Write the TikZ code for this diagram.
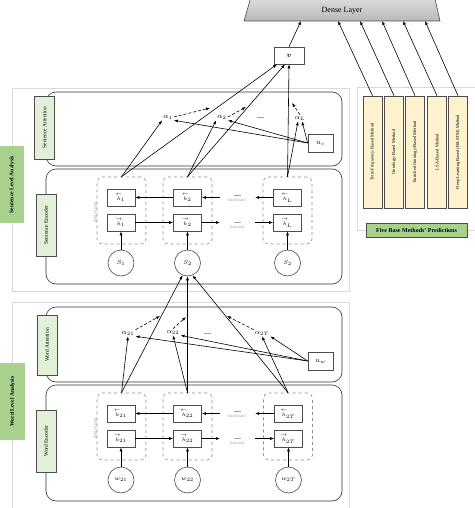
\documentclass[tikz,border=0pt]{standalone}
\usepackage{fontspec}
\setmainfont{Liberation Serif}
\usepackage{amsmath}
\usepackage{bm}
\usetikzlibrary{arrows.meta}

\definecolor{tagfill}{HTML}{E2F0D9}
\definecolor{levelfill}{HTML}{A9D18E}
\definecolor{methodfill}{HTML}{FFF2CC}

\newcommand{\bwh}[1]{\overset{\makebox[0pt]{$\scriptscriptstyle\leftarrow$}}{h}_{#1}}
\newcommand{\fwh}[1]{\overset{\makebox[0pt]{$\scriptscriptstyle\rightarrow$}}{h}_{#1}}

\tikzset{
  frame/.style={draw=black!15, line width=0.8pt},
  layer/.style={draw=black!80, rounded corners=10pt, minimum width=296pt, inner sep=0pt},
  tag/.style={draw=black!70, fill=tagfill, rotate=90, minimum height=20pt, inner sep=0pt, font=\fontsize{5.4}{6}\selectfont},
  level/.style={fill=levelfill, rotate=90, minimum width=77pt, minimum height=24pt, inner sep=0pt, font=\bfseries\fontsize{5.6}{6}\selectfont},
  method/.style={draw=black!70, fill=methodfill, rotate=90, minimum width=112pt, minimum height=19pt, inner sep=0pt, font=\fontsize{4.5}{5}\selectfont},
  state/.style={draw=black!45, dashed, rounded corners=5pt, minimum width=49pt, minimum height=67pt, inner sep=0pt},
  hid/.style={draw=black!70, minimum width=28pt, minimum height=17pt, inner sep=0pt, font=\fontsize{5.5}{6}\selectfont},
  token/.style={circle, draw=black!70, minimum size=26pt, inner sep=0pt, font=\fontsize{6.5}{7}\selectfont},
  weight/.style={inner sep=1pt, font=\fontsize{7}{8}\selectfont},
  ctx/.style={draw=black!70, minimum width=25pt, minimum height=18pt, inner sep=0pt, font=\fontsize{7}{8}\selectfont},
  faint/.style={text=black!35, inner sep=0pt, align=center, font=\fontsize{4.5}{5}\selectfont},
  arr/.style={-{Latex[length=4pt,width=3pt]}},
  darr/.style={arr, densely dashed},
}

\begin{document}
\begin{tikzpicture}[x=1pt,y=-1pt,line width=0.6pt]
  \useasboundingbox (0,0) rectangle (474,508);

  % Dense layer
  \shade[top color=black!8, bottom color=black!28, draw=black!70] (253,-10) -- (433,-10) -- (440,21) -- (244,21) -- cycle;
  \node[font=\fontsize{8}{9}\selectfont] (dense) at (342,11) {Dense Layer};
  \coordinate (d0) at (301,21);
  \coordinate (d1) at (338,21);
  \coordinate (d2) at (360,21);
  \coordinate (d3) at (382,21);
  \coordinate (d4) at (403,21);
  \coordinate (d5) at (425,21);

  % Document vector
  \node[ctx, minimum width=30pt, minimum height=17pt] (v) at (289,55.5) {$\bm{v}$};
  \draw[arr] (v.north) -- (d0);

  % Base methods
  \draw[frame] (357,87) rectangle (480,230);
  \node[method] (m1) at (372.5,152) {Term Frequency-Based Method};
  \node[method] (m2) at (394,152) {Ontology-Based Method};
  \node[method] (m3) at (415,152) {Enriched Ontology-Based Method};
  \node[method] (m4) at (437,152) {LSA-Based Method};
  \node[method] (m5) at (458,152) {Deep Learning Based (BiLSTM) Method};
  \node[draw=black!70, fill=levelfill, minimum width=101pt, minimum height=14pt, inner sep=0pt,
        font=\bfseries\fontsize{6}{7}\selectfont] (pred) at (416.5,230) {Five Base Methods' Predictions};
  \draw[arr] (m1.east) -- (d1);
  \draw[arr] (m2.east) -- (d2);
  \draw[arr] (m3.east) -- (d3);
  \draw[arr] (m4.east) -- (d4);
  \draw[arr] (m5.east) -- (d5);

  % Sentence level
  \draw[frame] (12,88) rectangle (349,291);
  \node[layer, minimum height=74pt] (satt) at (194,129) {};
  \node[layer, minimum height=115pt] (senc) at (194,226.5) {};
  \node[tag, minimum width=63pt] (satttag) at (44.5,127.5) {Sentence Attention};
  \node[tag, minimum width=62pt] (senctag) at (46,225) {Sentence Encoder};
  \node[level] (slevel) at (12,184.5) {Sentence Level Analysis};

  % Sentence encoder
  \node[state] (sc1) at (121.5,210.5) {};
  \node[state] (sc2) at (187.5,210.5) {};
  \node[state] (sc3) at (287.5,210.5) {};
  \node[hid] (sh1t) at (121,197.5) {$\bwh{1}$};
  \node[hid] (sh1b) at (121,222.5) {$\fwh{1}$};
  \node[hid] (sh2t) at (187.5,197.5) {$\bwh{2}$};
  \node[hid] (sh2b) at (187.5,222.5) {$\fwh{2}$};
  \node[hid] (sh3t) at (287.5,197.5) {$\bwh{L}$};
  \node[hid] (sh3b) at (287.5,222.5) {$\fwh{L}$};
  \node[token] (ss1) at (121,263) {$S_1$};
  \node[token] (ss2) at (187.5,263) {$S_2$};
  \node[token] (ss3) at (287.5,263) {$S_2$};
  \node[faint, rotate=90] (shid) at (95,212) {hidden state};
  \node[faint] (sbwd) at (237,198) {\rule{7pt}{0.4pt}\\[1pt]backward};
  \node[faint] (sfwd) at (237,225.5) {\rule{7pt}{0.4pt}\\[1pt]forward};
  \coordinate (sb1) at (220,197.5);
  \coordinate (sb2) at (255,197.5);
  \coordinate (sf1) at (220,222.5);
  \coordinate (sf2) at (255,222.5);
  \draw[arr] (sh2t.west) -- (sh1t.east);
  \draw[arr] (sb1) -- (sh2t.east);
  \draw[arr] (sh3t.west) -- (sb2);
  \draw[arr] (sh1b.east) -- (sh2b.west);
  \draw[arr] (sh2b.east) -- (sf1);
  \draw[arr] (sf2) -- (sh3b.west);
  \draw[arr] (ss1.north) -- (sh1b.south);
  \draw[arr] (ss2.north) -- (sh2b.south);
  \draw[arr] (ss3.north) -- (sh3b.south);

  % Sentence attention
  \node[weight] (a1) at (168,117) {$\alpha_1$};
  \node[weight] (a2) at (222,117) {$\alpha_2$};
  \node[faint] (adots) at (260,117) {\rule{7pt}{0.4pt}};
  \node[weight] (aL) at (300,118) {$\alpha_L$};
  \node[ctx] (us) at (320.5,143) {$u_s$};
  \coordinate (sa1) at (210,108);
  \coordinate (sa2) at (246,107);
  \coordinate (sa3) at (292,103);
  \draw[darr] (a1.east) -- (sa1);
  \draw[darr] (a2.east) -- (sa2);
  \draw[darr] (aL.north) -- (sa3);
  \draw[arr] (us.west) -- (a1.south east);
  \draw[arr] (us.west) -- (a2.south east);
  \draw[arr] (us.west) -- ([xshift=2pt]aL.south);
  \draw[arr] (sc1.north) -- (a1.south west);
  \draw[arr] (sc2.north) -- (a2.south west);
  \draw[arr] (sc3.north) -- ([xshift=-2pt]aL.south);
  \draw[arr] (sc1.north) -- ([xshift=-12pt]v.south);
  \draw[arr] (sc2.north) -- ([xshift=-4pt]v.south);
  \draw[arr] (sc3.north) -- (v.south);

  % Word level
  \draw[frame] (12,302) rectangle (349,515);
  \node[layer, minimum height=75pt] (watt) at (194,344.5) {};
  \node[layer, minimum height=116pt] (wenc) at (194,443) {};
  \node[tag, minimum width=60pt] (watttag) at (47,345) {Word Attention};
  \node[tag, minimum width=62pt] (wenctag) at (46,441) {Word Encoder};
  \node[level, minimum height=25pt] (wlevel) at (12.5,401.5) {Word Level Analysis};

  % Word encoder
  \node[state] (wc1) at (121.5,426.5) {};
  \node[state] (wc2) at (187.5,426.5) {};
  \node[state] (wc3) at (288,426.5) {};
  \node[hid] (wh1t) at (121,413.5) {$\bwh{21}$};
  \node[hid] (wh1b) at (121,438.5) {$\fwh{21}$};
  \node[hid] (wh2t) at (187.5,413.5) {$\bwh{22}$};
  \node[hid] (wh2b) at (187.5,438.5) {$\fwh{22}$};
  \node[hid] (wh3t) at (288.5,413.5) {$\bwh{2T}$};
  \node[hid] (wh3b) at (288.5,438.5) {$\fwh{2T}$};
  \node[token] (ww1) at (121,480) {$w_{21}$};
  \node[token] (ww2) at (187.5,480) {$w_{22}$};
  \node[token] (ww3) at (288.5,480) {$w_{2T}$};
  \node[faint, rotate=90] (whid) at (95,428) {hidden state};
  \node[faint] (wbwd) at (237,414) {\rule{7pt}{0.4pt}\\[1pt]backward};
  \node[faint] (wfwd) at (237,441.5) {\rule{7pt}{0.4pt}\\[1pt]forward};
  \coordinate (wb1) at (220,413.5);
  \coordinate (wb2) at (255,413.5);
  \coordinate (wf1) at (220,438.5);
  \coordinate (wf2) at (255,438.5);
  \draw[arr] (wh2t.west) -- (wh1t.east);
  \draw[arr] (wb1) -- (wh2t.east);
  \draw[arr] (wh3t.west) -- (wb2);
  \draw[arr] (wh1b.east) -- (wh2b.west);
  \draw[arr] (wh2b.east) -- (wf1);
  \draw[arr] (wf2) -- (wh3b.west);
  \draw[arr] (ww1.north) -- (wh1b.south);
  \draw[arr] (ww2.north) -- (wh2b.south);
  \draw[arr] (ww3.north) -- (wh3b.south);

  % Word attention
  \node[weight] (a21) at (128,333) {$\alpha_{21}$};
  \node[weight] (a22) at (173,332) {$\alpha_{22}$};
  \node[faint] (bdots) at (207,333) {\rule{7pt}{0.4pt}};
  \node[weight] (a2T) at (262,333) {$\alpha_{2T}$};
  \node[ctx] (uw) at (320.5,361) {$u_w$};
  \coordinate (wa1) at (160,316);
  \coordinate (wa2) at (186,317);
  \coordinate (wa3) at (227,316);
  \draw[darr] (a21.north east) -- (wa1);
  \draw[darr] (a22.north) -- (wa2);
  \draw[darr] (a2T.north west) -- (wa3);
  \draw[arr] (uw.west) -- (a21.south east);
  \draw[arr] (uw.west) -- (a22.south east);
  \draw[arr] (uw.west) -- (a2T.south east);
  \draw[arr] (wc1.north) -- (a21.south);
  \draw[arr] (wc2.north) -- (a22.south);
  \draw[arr] (wc3.north) -- (a2T.south);
  \draw[arr] (wc1.north) -- (ss2.-112);
  \draw[arr] (wc2.north) -- (ss2.south);
  \draw[arr] (wc3.north) -- (ss2.-68);
\end{tikzpicture}
\end{document}
